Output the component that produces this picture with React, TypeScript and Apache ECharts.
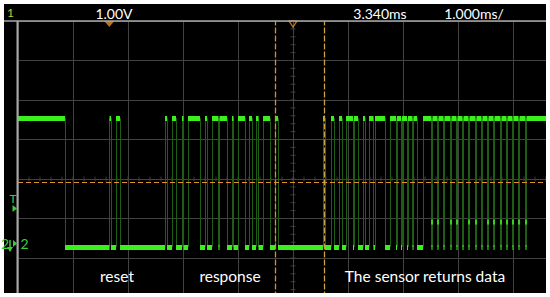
import React, { useEffect, useRef } from "react";
import * as echarts from "echarts";

// ---- scope settings (time in ms, 1 ms/div, centre 3.340 ms; volts, 1 V/div) ----
const timeMin = -1.66;
const timeMax = 8.34;
const voltMin = -1.38;
const voltMax = 5.62;
const screenStart = -1.66;
const screenEnd = 7.94;

const highLevel = 3.16;
const lowLevel = -0.1;
const midLevel = 0.53;
const triggerLevel = 1.53;
const triggerTime = 0.0;
const timeReference = 3.34;
const centreVolt = 1.62;
const cursorA = 3.013;
const cursorB = 3.904;

// intervals (ms) during which the line is high; elsewhere it is low
const highIntervals: [number, number][] = [
  [-1.66, -0.806],
  [0.004, 0.031],
  [0.122, 0.195],
  [1.013, 1.049],
  [1.14, 1.213],
  [1.322, 1.349],
  [1.431, 1.649],
  [1.74, 1.776],
  [1.867, 1.985],
  [2.004, 2.14],
  [2.231, 2.258],
  [2.34, 2.467],
  [2.54, 2.595],
  [2.667, 2.713],
  [2.795, 2.922],
  [3.013, 3.067],
  [3.885, 3.922],
  [4.031, 4.085],
  [4.176, 4.231],
  [4.304, 4.431],
  [4.449, 4.522],
  [4.613, 4.649],
  [4.722, 4.804],
  [4.831, 5.013],
  [5.104, 5.213],
  [5.231, 5.304],
  [5.322, 5.413],
  [5.431, 5.513],
  [5.531, 5.595],
  [5.704, 5.858],
  [5.876, 5.967],
  [5.985, 6.076],
  [6.094, 6.204],
  [6.222, 6.313],
  [6.331, 6.422],
  [6.44, 6.531],
  [6.549, 6.658],
  [6.676, 6.767],
  [6.785, 6.876],
  [6.894, 6.986],
  [7.004, 7.113],
  [7.131, 7.222],
  [7.24, 7.331],
  [7.349, 7.44],
  [7.458, 7.567],
  [7.585, 7.94],
];

// bit pulses that show a short blip at an intermediate level
const midLevelPulses = [5.867, 5.976, 6.213, 6.322, 6.54, 6.667, 6.885, 6.995, 7.122, 7.231, 7.34, 7.449, 7.576];

const headerTexts = ["1.00V", "3.340ms", "1.000ms/"];
const sectionLabels = ["reset", "response", "The sensor returns data"];

const GREEN = "#3cf01e";
const EDGE = "#1f5c16";
const ORANGE = "#e3902c";
const MARK = "#3ccc3c";
const FONT = "Lato, 'Open Sans', sans-serif";

export default function App() {
  const ref = useRef<HTMLDivElement>(null);
  useEffect(() => {
    if (!ref.current) return;
    const chart = echarts.init(ref.current, undefined, { renderer: "svg" });

    const levelSegs: any[] = [];
    const edgeSegs: any[] = [];
    let prevEnd = screenStart;
    highIntervals.forEach(([a, b]) => {
      if (a > prevEnd) levelSegs.push({ coords: [[prevEnd, lowLevel], [a, lowLevel]] });
      levelSegs.push({ coords: [[a, highLevel], [b, highLevel]] });
      if (a > screenStart) edgeSegs.push({ coords: [[a, lowLevel], [a, highLevel]] });
      if (b < screenEnd) edgeSegs.push({ coords: [[b, highLevel], [b, lowLevel]] });
      prevEnd = b;
    });
    if (prevEnd < screenEnd) levelSegs.push({ coords: [[prevEnd, lowLevel], [screenEnd, lowLevel]] });

    // minor ticks on the centre cross-hair
    const vTicks: number[][] = [];
    for (let k = 0; k <= 35; k++) vTicks.push([timeReference, voltMin + k * 0.2]);
    const hTicks: number[][] = [];
    for (let k = 0; k <= 50; k++) hTicks.push([timeMin + k * 0.2, centreVolt]);

    const txt = (x: number, y: number, text: string, fill: string, size: number, align = "center", z = 120) => ({
      type: "text",
      x,
      y,
      z,
      style: { text, fill, font: `${size}px ${FONT}`, align, verticalAlign: "middle" },
    });

    chart.setOption({
      animation: false,
      backgroundColor: "#000000",
      grid: { left: 18, top: 21, width: 550, height: 276.5, containLabel: false, outerBoundsMode: "none" },
      xAxis: {
        type: "value",
        min: timeMin,
        max: timeMax,
        interval: 1,
        axisLine: { show: false },
        axisTick: { show: false },
        axisLabel: { show: false },
        splitLine: { show: true, lineStyle: { color: "#424242", width: 1 } },
      },
      yAxis: {
        type: "value",
        min: voltMin,
        max: voltMax,
        interval: 1,
        axisLine: { show: false },
        axisTick: { show: false },
        axisLabel: { show: false },
        splitLine: { show: true, lineStyle: { color: "#424242", width: 1 } },
      },
      series: [
        {
          type: "scatter",
          data: vTicks,
          symbol: "rect",
          symbolSize: [5, 1],
          itemStyle: { color: "#4a4a4a" },
          silent: true,
          z: 1,
        },
        {
          type: "scatter",
          data: hTicks,
          symbol: "rect",
          symbolSize: [1, 5],
          itemStyle: { color: "#4a4a4a" },
          silent: true,
          z: 1,
        },
        {
          type: "lines",
          coordinateSystem: "cartesian2d",
          data: edgeSegs,
          lineStyle: { color: EDGE, width: 1, opacity: 1 },
          silent: true,
          z: 3,
        },
        {
          type: "lines",
          coordinateSystem: "cartesian2d",
          data: levelSegs,
          lineStyle: { color: GREEN, width: 5, opacity: 1 },
          silent: true,
          z: 4,
        },
        {
          type: "scatter",
          data: midLevelPulses.map((t) => [t, midLevel]),
          symbol: "rect",
          symbolSize: [2, 5],
          itemStyle: { color: GREEN },
          silent: true,
          z: 4,
        },
        {
          type: "lines",
          coordinateSystem: "cartesian2d",
          data: [{ coords: [[screenStart, triggerLevel], [screenEnd, triggerLevel]] }],
          lineStyle: { color: ORANGE, width: 1.2, type: [5, 3], opacity: 1 },
          silent: true,
          z: 5,
        },
        {
          type: "lines",
          coordinateSystem: "cartesian2d",
          data: [
            { coords: [[cursorA, voltMin], [cursorA, voltMax]], lineStyle: { color: "#e08a2a" } },
            { coords: [[cursorB, voltMin], [cursorB, voltMax]], lineStyle: { color: "#c8a23c" } },
          ],
          lineStyle: { width: 1.3, type: [6, 2], opacity: 1 },
          silent: true,
          z: 6,
        },
        {
          type: "scatter",
          data: [[triggerTime, voltMax]],
          symbol: "path://M0,0 L10,0 L5,6 Z",
          symbolSize: [10, 6],
          symbolOffset: [0, 3],
          itemStyle: { color: ORANGE },
          clip: false,
          silent: true,
          z: 7,
        },
        {
          type: "scatter",
          data: [[timeReference, voltMax]],
          symbol: "path://M0,0 L10,0 L5,7 Z",
          symbolSize: [8, 6],
          symbolOffset: [0, 3],
          itemStyle: { color: "rgba(0,0,0,0)", borderColor: ORANGE, borderWidth: 1.2 },
          clip: false,
          silent: true,
          z: 7,
        },
      ],
      graphic: {
        elements: [
          // frame lines
          { type: "line", z: 90, shape: { x1: 4, y1: 21, x2: 546, y2: 21 }, style: { stroke: "#a8a8a8", lineWidth: 1.5 } },
          { type: "line", z: 90, shape: { x1: 17.5, y1: 21, x2: 17.5, y2: 293 }, style: { stroke: "#a8a8a8", lineWidth: 2 } },
          // white paper border
          { type: "rect", z: 100, shape: { x: 0, y: 0, width: 550, height: 4 }, style: { fill: "#ffffff" } },
          { type: "rect", z: 100, shape: { x: 0, y: 293, width: 550, height: 4 }, style: { fill: "#ffffff" } },
          { type: "rect", z: 100, shape: { x: 0, y: 0, width: 4, height: 297 }, style: { fill: "#ffffff" } },
          { type: "rect", z: 100, shape: { x: 546, y: 0, width: 4, height: 297 }, style: { fill: "#ffffff" } },
          // header
          txt(10.5, 12, "1", "#c8c830", 12),
          txt(114, 13, headerTexts[0], "#ffffff", 14),
          txt(380, 13, headerTexts[1], "#ffffff", 14),
          txt(474, 13, headerTexts[2], "#ffffff", 14),
          // left markers
          txt(13, 198, "T", MARK, 12),
          { type: "polygon", z: 120, shape: { points: [[12.5, 205], [17, 208.5], [12.5, 212]] }, style: { fill: MARK } },
          txt(1, 243, "2", MARK, 14, "left"),
          { type: "line", z: 120, shape: { x1: 10, y1: 240, x2: 10, y2: 251 }, style: { stroke: MARK, lineWidth: 1.5 } },
          { type: "polygon", z: 120, shape: { points: [[7, 247], [13, 247], [10, 252]] }, style: { fill: MARK } },
          { type: "polygon", z: 120, shape: { points: [[13, 240], [17, 243.5], [13, 247]] }, style: { fill: MARK } },
          txt(20.5, 243.5, "2", MARK, 14, "left"),
          // section labels
          txt(117, 276, sectionLabels[0], "#ffffff", 15.5),
          txt(230, 276, sectionLabels[1], "#ffffff", 15.5),
          txt(425, 276, sectionLabels[2], "#ffffff", 15.5),
        ],
      },
    });
    return () => chart.dispose();
  }, []);
  return <div ref={ref} style={{ position: "fixed", left: 0, top: 0, width: 550, height: 297 }} />;
}
